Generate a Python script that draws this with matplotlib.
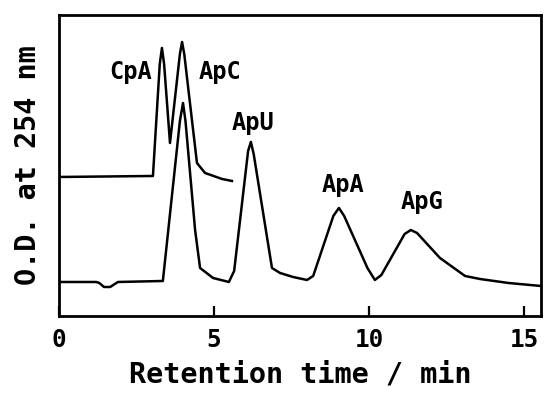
import matplotlib.pyplot as plt

# lower trace: mixture of five dinucleoside phosphates
t_mix = [0.0, 1.20, 1.30, 1.45, 1.65, 1.80, 1.90, 3.35, 3.90, 4.00, 4.08,
         4.39, 4.55, 4.97, 5.48, 5.65, 6.10, 6.19, 6.28, 6.87, 7.13, 7.55,
         8.00, 8.20, 8.85, 9.03, 9.20, 9.95, 10.19, 10.40, 11.15, 11.35,
         11.55, 12.29, 13.10, 13.58, 14.50, 15.55]
od_mix = [34, 34, 33, 29, 29, 32, 34, 35, 195, 213, 195,
          86, 48, 38, 34, 45, 165, 174, 162, 48, 43, 39,
          36, 40, 100, 108, 100, 48, 36, 41, 82, 86,
          83, 58, 40, 37, 33, 30]

# upper trace: CpA / ApC
t_ca = [0.0, 3.03, 3.25, 3.32, 3.39, 3.58, 3.90, 3.97, 4.04, 4.45, 4.71,
        5.26, 5.58]
od_ca = [139, 140, 252, 268, 252, 173, 262, 274, 262, 153, 143,
         137, 135]

peak_names = ['CpA', 'ApC', 'ApU', 'ApA', 'ApG']
peak_x = [2.3, 5.2, 6.25, 9.15, 11.7]
peak_y = [244, 244, 193, 131, 114]

plt.rcParams['font.family'] = ['DejaVu Sans Mono']
plt.rcParams['font.weight'] = 'bold'

fig = plt.figure(figsize=(5.44, 3.94), dpi=100)
ax = fig.add_axes([0.1085, 0.198, 0.886, 0.764])

ax.plot(t_mix, od_mix, color='black', lw=1.8, solid_joinstyle='round')
ax.plot(t_ca, od_ca, color='black', lw=1.8, solid_joinstyle='round')

for name, x, y in zip(peak_names, peak_x, peak_y):
    ax.text(x, y, name, fontsize=17, fontweight='bold', ha='center', va='center')

ax.set_xlim(0, 15.55)
ax.set_ylim(0, 301)
ax.set_xticks([0, 5, 10, 15])
ax.set_yticks([])
ax.tick_params(axis='x', direction='in', length=7, width=1.6, pad=9, labelsize=17.5)
for s in ax.spines.values():
    s.set_linewidth(2)

ax.set_xlabel('Retention time / min', fontsize=20.5, fontweight='bold', labelpad=6)
ax.set_ylabel('O.D. at 254 nm', fontsize=20.5, fontweight='bold', labelpad=12)

fig.savefig('out.png', dpi=100)
